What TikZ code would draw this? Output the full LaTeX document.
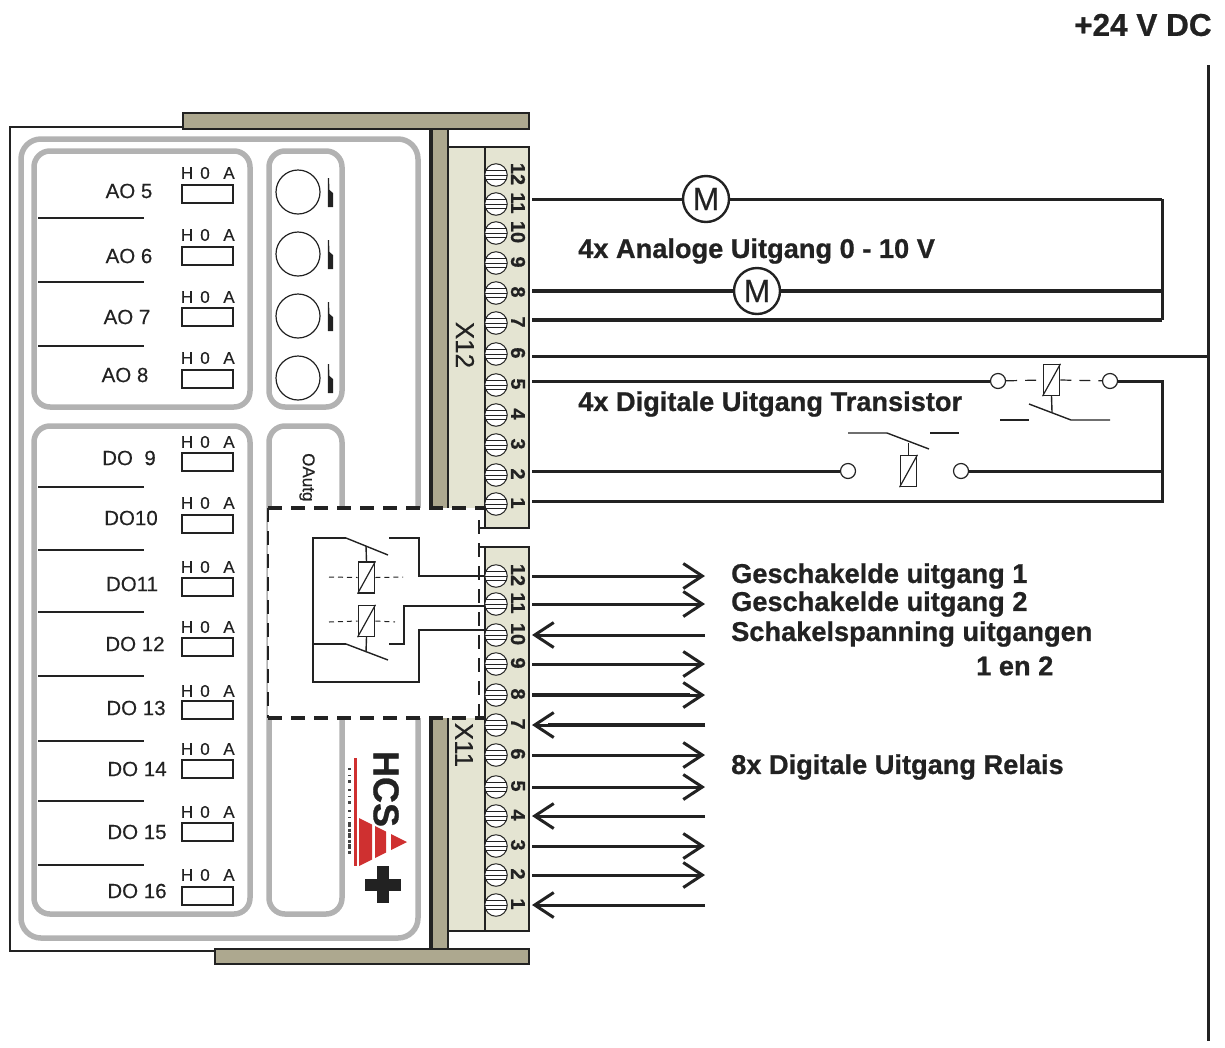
\documentclass[tikz,border=0pt]{standalone}
\usepackage{fontspec}
\setmainfont{Liberation Sans}
\newfontfamily\heavy[FakeBold=0.8]{Liberation Sans Bold}
\newfontfamily\medium[FakeBold=0.35]{Liberation Sans}
\usetikzlibrary{arrows.meta}
\definecolor{barc}{HTML}{ADA88F}
\definecolor{beig}{HTML}{E4E4D2}
\definecolor{grayl}{HTML}{B2B2B2}
\definecolor{ink}{HTML}{222222}
\definecolor{logored}{HTML}{CF3030}
\tikzset{
  gbox/.style={draw=grayl,line width=5.5pt,rounded corners=20pt},
  barbox/.style={draw=ink,fill=barc,line width=1.4pt},
  beigebox/.style={draw=ink,fill=beig,line width=1.4pt},
  wire/.style={draw=ink,line width=3pt},
  wireb/.style={draw=ink,line width=4pt},
  thinwire/.style={draw=ink,line width=1.4pt},
  term/.style={circle,draw=ink,line width=1pt,fill=white,minimum size=22.5pt,inner sep=0pt,path picture={
     \foreach \d in {-4.5,0,4.5}{\draw[ink,line width=.8pt] ([yshift=\d pt]path picture bounding box.west)--([yshift=\d pt]path picture bounding box.east);}}},
  termlab/.style={font=\heavy\fontsize{20}{20}\selectfont,rotate=-90,inner sep=0pt,text=ink},
  bigt/.style={font=\heavy\fontsize{27.2}{28}\selectfont,inner sep=0pt,anchor=west,text=ink},
  namet/.style={font=\medium\fontsize{20.5}{21}\selectfont,inner sep=0pt,text=ink},
  hoa/.style={font=\medium\fontsize{17}{17}\selectfont,inner sep=0pt,text=ink},
  hoabox/.style={draw=ink,line width=1.3pt,fill=white,minimum width=51pt,minimum height=18pt,inner sep=0pt},
  motor/.style={circle,draw=ink,line width=2.4pt,fill=white,minimum size=46pt,inner sep=0pt,font=\medium\fontsize{32}{32}\selectfont,text=ink},
  smallc/.style={circle,draw=ink,line width=1.2pt,fill=white,minimum size=15pt,inner sep=0pt},
  coil/.style={draw=ink,line width=1.4pt,fill=white,minimum width=16.5pt,minimum height=31pt,inner sep=0pt},
  rarrow/.style={draw=ink,line width=3pt,-{Straight Barb[length=19pt,width=25pt,line width=3pt]}},
}
\begin{document}
\begin{tikzpicture}[x=1pt,y=-1pt]
\useasboundingbox (0,0) rectangle (1225,1047);
% outer housing
\coordinate (hA) at (183,127); \coordinate (hB) at (10,127);
\coordinate (hC) at (10,951); \coordinate (hD) at (215,951);
\draw[ink,line width=1.5pt] (hA)--(hB)--(hC)--(hD);
% rounded grey frames
\draw[gbox] (21,139) rectangle (418,938);
\draw[gbox,rounded corners=16pt] (34,151) rectangle (250,407);
\draw[gbox,rounded corners=16pt] (34,426) rectangle (250,914);
\draw[gbox,rounded corners=16pt] (269,151) rectangle (342,407);
\draw[gbox,rounded corners=16pt] (269,426) rectangle (342,914);
% bars and terminal blocks
\draw[barbox] (431,129) rectangle (448,949);
\draw[ink,line width=3.4pt] (431,129)--(431,949);
\draw[beigebox] (448,147) rectangle (529,528);
\draw[beigebox] (448,547) rectangle (529,931);
\draw[ink,line width=1.4pt] (485,147)--(485,528);
\draw[ink,line width=1.4pt] (485,547)--(485,931);
\draw[barbox] (183,113) rectangle (529,129);
\draw[barbox] (215,949) rectangle (529,964);
\node[font=\medium\fontsize{26}{26}\selectfont,rotate=-90,inner sep=0pt,text=ink] (x12) at (465,345) {X12};
\node[font=\medium\fontsize{26}{26}\selectfont,rotate=-90,inner sep=0pt,text=ink] (x11) at (464,745) {X11};
% channel labels
\foreach \n/\t/\x/\y in {a5/AO 5/129/191,a6/AO 6/129/256,a7/AO 7/127/317,a8/AO 8/125/375,
  d9/DO\ \ 9/129/458,d10/DO10/131/518,d11/DO11/132/584,d12/DO 12/135/644,d13/DO 13/136/708,d14/DO 14/137/769,d15/DO 15/137/832,d16/DO 16/137/891}
  \node[namet] (n\n) at (\x,\y) {\t};
\foreach \n/\ly/\ry in {a5/173/194,a6/235/256,a7/297/317,a8/358/379,d9/442/462,d10/503/524,d11/567/587,d12/627/647,d13/691/710,d14/749/769,d15/812/832,d16/875/896}{
  \node[hoa] (h\n) at (187,\ly) {H};
  \node[hoa] (o\n) at (205,\ly) {0};
  \node[hoa] (i\n) at (229,\ly) {A};
  \node[hoabox] (b\n) at (207.5,\ry) {};
}
\foreach \y in {218,282,346,487,550,612,676,741,801,865}{
  \coordinate (sa\y) at (38,\y); \coordinate (sb\y) at (144,\y);
  \draw[ink,line width=1.2pt] (sa\y)--(sb\y);
}
% pots
\foreach \i/\y in {1/192,2/254,3/316,4/378}{
  \node[circle,draw=ink,line width=1.2pt,minimum size=44pt,inner sep=0pt] (pot\i) at (298,\y) {};
  \fill[ink] (327.8,\y-14) -- (329,\y-14) -- (329.5,\y-2) -- (333,\y+1) -- (333,\y+15) -- (327.8,\y+15) -- cycle;
}
\node[font=\medium\fontsize{17}{17}\selectfont,rotate=-90,inner sep=0pt,anchor=west,text=ink] (oautg) at (307,453) {OAutg};
% logo
\fill[logored] (354,758) rectangle (356.5,866);
\fill[logored] (359,818)--(372,824.5)--(372,859.5)--(359,866)--cycle;
\fill[logored] (375,826)--(386,831.5)--(386,852.5)--(375,858)--cycle;
\fill[logored] (391,834)--(407,842)--(391,850)--cycle;
\node[font=\heavy\fontsize{36}{36}\selectfont,rotate=-90,inner sep=0pt,text=ink] (hcs) at (386,789) {HCS};
\fill[ink] (365,879) rectangle (401,891);
\fill[ink] (377,866) rectangle (389,903);
% the tagline beside the logo is illegible in the reference: drawn as specks
\draw[ink!85,line width=3pt,dash pattern=on 2pt off 5pt on 1pt off 4pt on 3pt off 6pt] (349,768)--(349,822);
\draw[ink!85,line width=3pt,dash pattern=on 5pt off 1.5pt on 3pt off 1.5pt] (349,822)--(349,855);
% dashed cover
\fill[white] (268,508) rectangle (484,718);
\fill[white] (448,528) rectangle (529,547);
\draw[ink,line width=3.2pt,dash pattern=on 14pt off 9pt] (268,508)--(484,508);
\draw[ink,line width=3.2pt,dash pattern=on 14pt off 9pt] (268,718)--(484,718);
\draw[ink,line width=2.4pt,dash pattern=on 14pt off 9pt] (268,508)--(268,718);
\draw[ink,line width=2.4pt,dash pattern=on 14pt off 9pt] (479,520)--(479,718);
\draw[ink,line width=1.4pt] (479,528)--(529,528);
\draw[ink,line width=1.4pt] (479,547)--(529,547);
\draw[ink,line width=1.4pt] (485,508)--(485,528);
% terminals
\foreach \i/\y in {12/175,11/204,10/233,9/263,8/293,7/323,6/354,5/385,4/415,3/445,2/475,1/504}{
  \node[term] (p\i) at (496,\y) {};
  \node[termlab] (pl\i) at (518,\y-1) {\i};
}
\foreach \i/\y in {12/576,11/604,10/635,9/664,8/695,7/725,6/755,5/787,4/816,3/846,2/875,1/905}{
  \node[term] (q\i) at (496,\y) {};
  \node[termlab] (ql\i) at (518,\y-1) {\i};
  \coordinate (qr\i) at (532,\y);
  \coordinate (qe\i) at (705,\y);
}
% relay outputs
\foreach \i in {12,11,9,8,6,5,3,2}{\draw[rarrow] (qr\i)--(qe\i);}
\foreach \i in {10,7,4,1}{\draw[rarrow] (qe\i)--(qr\i);}
\draw[ink,line width=4pt] (qr8)--(690,695);
\draw[ink,line width=4pt] (qe7)--(548,725);
% relay schematic
\node[coil] (c1) at (366.5,577.5) {};
\node[coil] (c2) at (366.5,621) {};
\draw[ink,line width=1.2pt] (c1.south west)--(c1.north east);
\draw[ink,line width=1.2pt] (c2.south west)--(c2.north east);
\coordinate (d1a) at (329,577); \coordinate (d1b) at (403,577);
\coordinate (d2a) at (329,622); \coordinate (d2b) at (395,622);
\draw[ink,line width=1pt,dash pattern=on 5pt off 4pt] (d1a)--(c1.west);
\draw[ink,line width=1pt,dash pattern=on 5pt off 4pt] (c1.east)--(d1b);
\draw[ink,line width=1pt,dash pattern=on 5pt off 4pt] (d2a)--(c2.west);
\draw[ink,line width=1pt,dash pattern=on 5pt off 4pt] (c2.east)--(d2b);
\draw[thinwire] (346,538)--(313,538)--(313,682)--(419,682)--(419,630)--(q10.west |- 0,630);
\draw[thinwire] (313,644)--(346,644);
\draw[thinwire] (346,538)--(388,555);
\draw[thinwire] (346,644)--(388,660);
\draw[thinwire] (366,546)--(c1.north);
\draw[thinwire] (c2.south)--(366,652);
\draw[thinwire] (389,538)--(419,538)--(419,576)--(q12.west);
\draw[thinwire] (389,644)--(404,644)--(404,606)--(q11.west |- 0,606);
% X12 wiring
\coordinate (rail) at (1162,199); \coordinate (railb) at (1162,501);
\coordinate (dc1) at (1208,65); \coordinate (dc2) at (1208,1041);
\draw[wire] (dc1)--(dc2);
\coordinate (a11) at (532,199); \coordinate (a8) at (532,291); \coordinate (a7) at (532,320);
\coordinate (a6) at (532,356); \coordinate (a5) at (532,381); \coordinate (a2) at (532,471); \coordinate (a1) at (532,501);
\node[motor] (m1) at (706,199) {M};
\node[motor] (m2) at (757,291) {M};
\draw[wire] (a11)--(m1);
\draw[wire] (m1)--(1162,199);
\draw[wireb] (a8)--(m2);
\draw[wireb] (m2)--(1162,291);
\draw[wireb] (a7)--(1162,320);
\draw[wire] (a6)--(1208,356);
\draw[wire] (rail)--(1162,320);
% transistor outputs
\node[smallc] (s1) at (998,381) {};
\node[smallc] (s2) at (1110,381) {};
\node[smallc] (s3) at (848,471) {};
\node[smallc] (s4) at (961,471) {};
\node[coil] (c3) at (1051.5,380) {};
\node[coil] (c4) at (908.5,471) {};
\draw[ink,line width=1.2pt] (c3.south west)--(c3.north east);
\draw[ink,line width=1.2pt] (c4.south west)--(c4.north east);
\draw[wire] (a5)--(s1);
\draw[wire] (s2)--(1162,381)--(railb)--(a1);
\draw[wire] (a2)--(s3);
\draw[wire] (s4)--(1162,471);
\draw[ink,line width=1.2pt,dash pattern=on 11pt off 8pt] (s1)--(c3.west);
\draw[ink,line width=1.2pt,dash pattern=on 11pt off 8pt] (c3.east)--(s2);
\draw[ink,line width=1.4pt] (c3.south)--(1052,412);
\draw[ink,line width=1.4pt] (1000,420)--(1029,420);
\draw[ink,line width=1.4pt] (1029,404)--(1071,420)--(1110,420);
\draw[ink,line width=1.4pt] (c4.north)--(908.5,443);
\draw[ink,line width=1.4pt] (848,433)--(887,433)--(929,449);
\draw[ink,line width=1.4pt] (930,433)--(959,433);
% texts
\node[bigt,font=\heavy\fontsize{31.5}{32}\selectfont] (t0) at (1074,25) {+24 V DC};
\node[bigt] (t1) at (578,251) {4x Analoge Uitgang 0 - 10 V};
\node[bigt] (t2) at (578,404) {4x Digitale Uitgang Transistor};
\node[bigt] (t3) at (731,576) {Geschakelde uitgang 1};
\node[bigt] (t4) at (731,604) {Geschakelde uitgang 2};
\node[bigt] (t5) at (731,634) {Schakelspanning uitgangen};
\node[bigt] (t6) at (976,666) {1 en 2};
\node[bigt] (t7) at (731,767) {8x Digitale Uitgang Relais};
\end{tikzpicture}
\end{document}
